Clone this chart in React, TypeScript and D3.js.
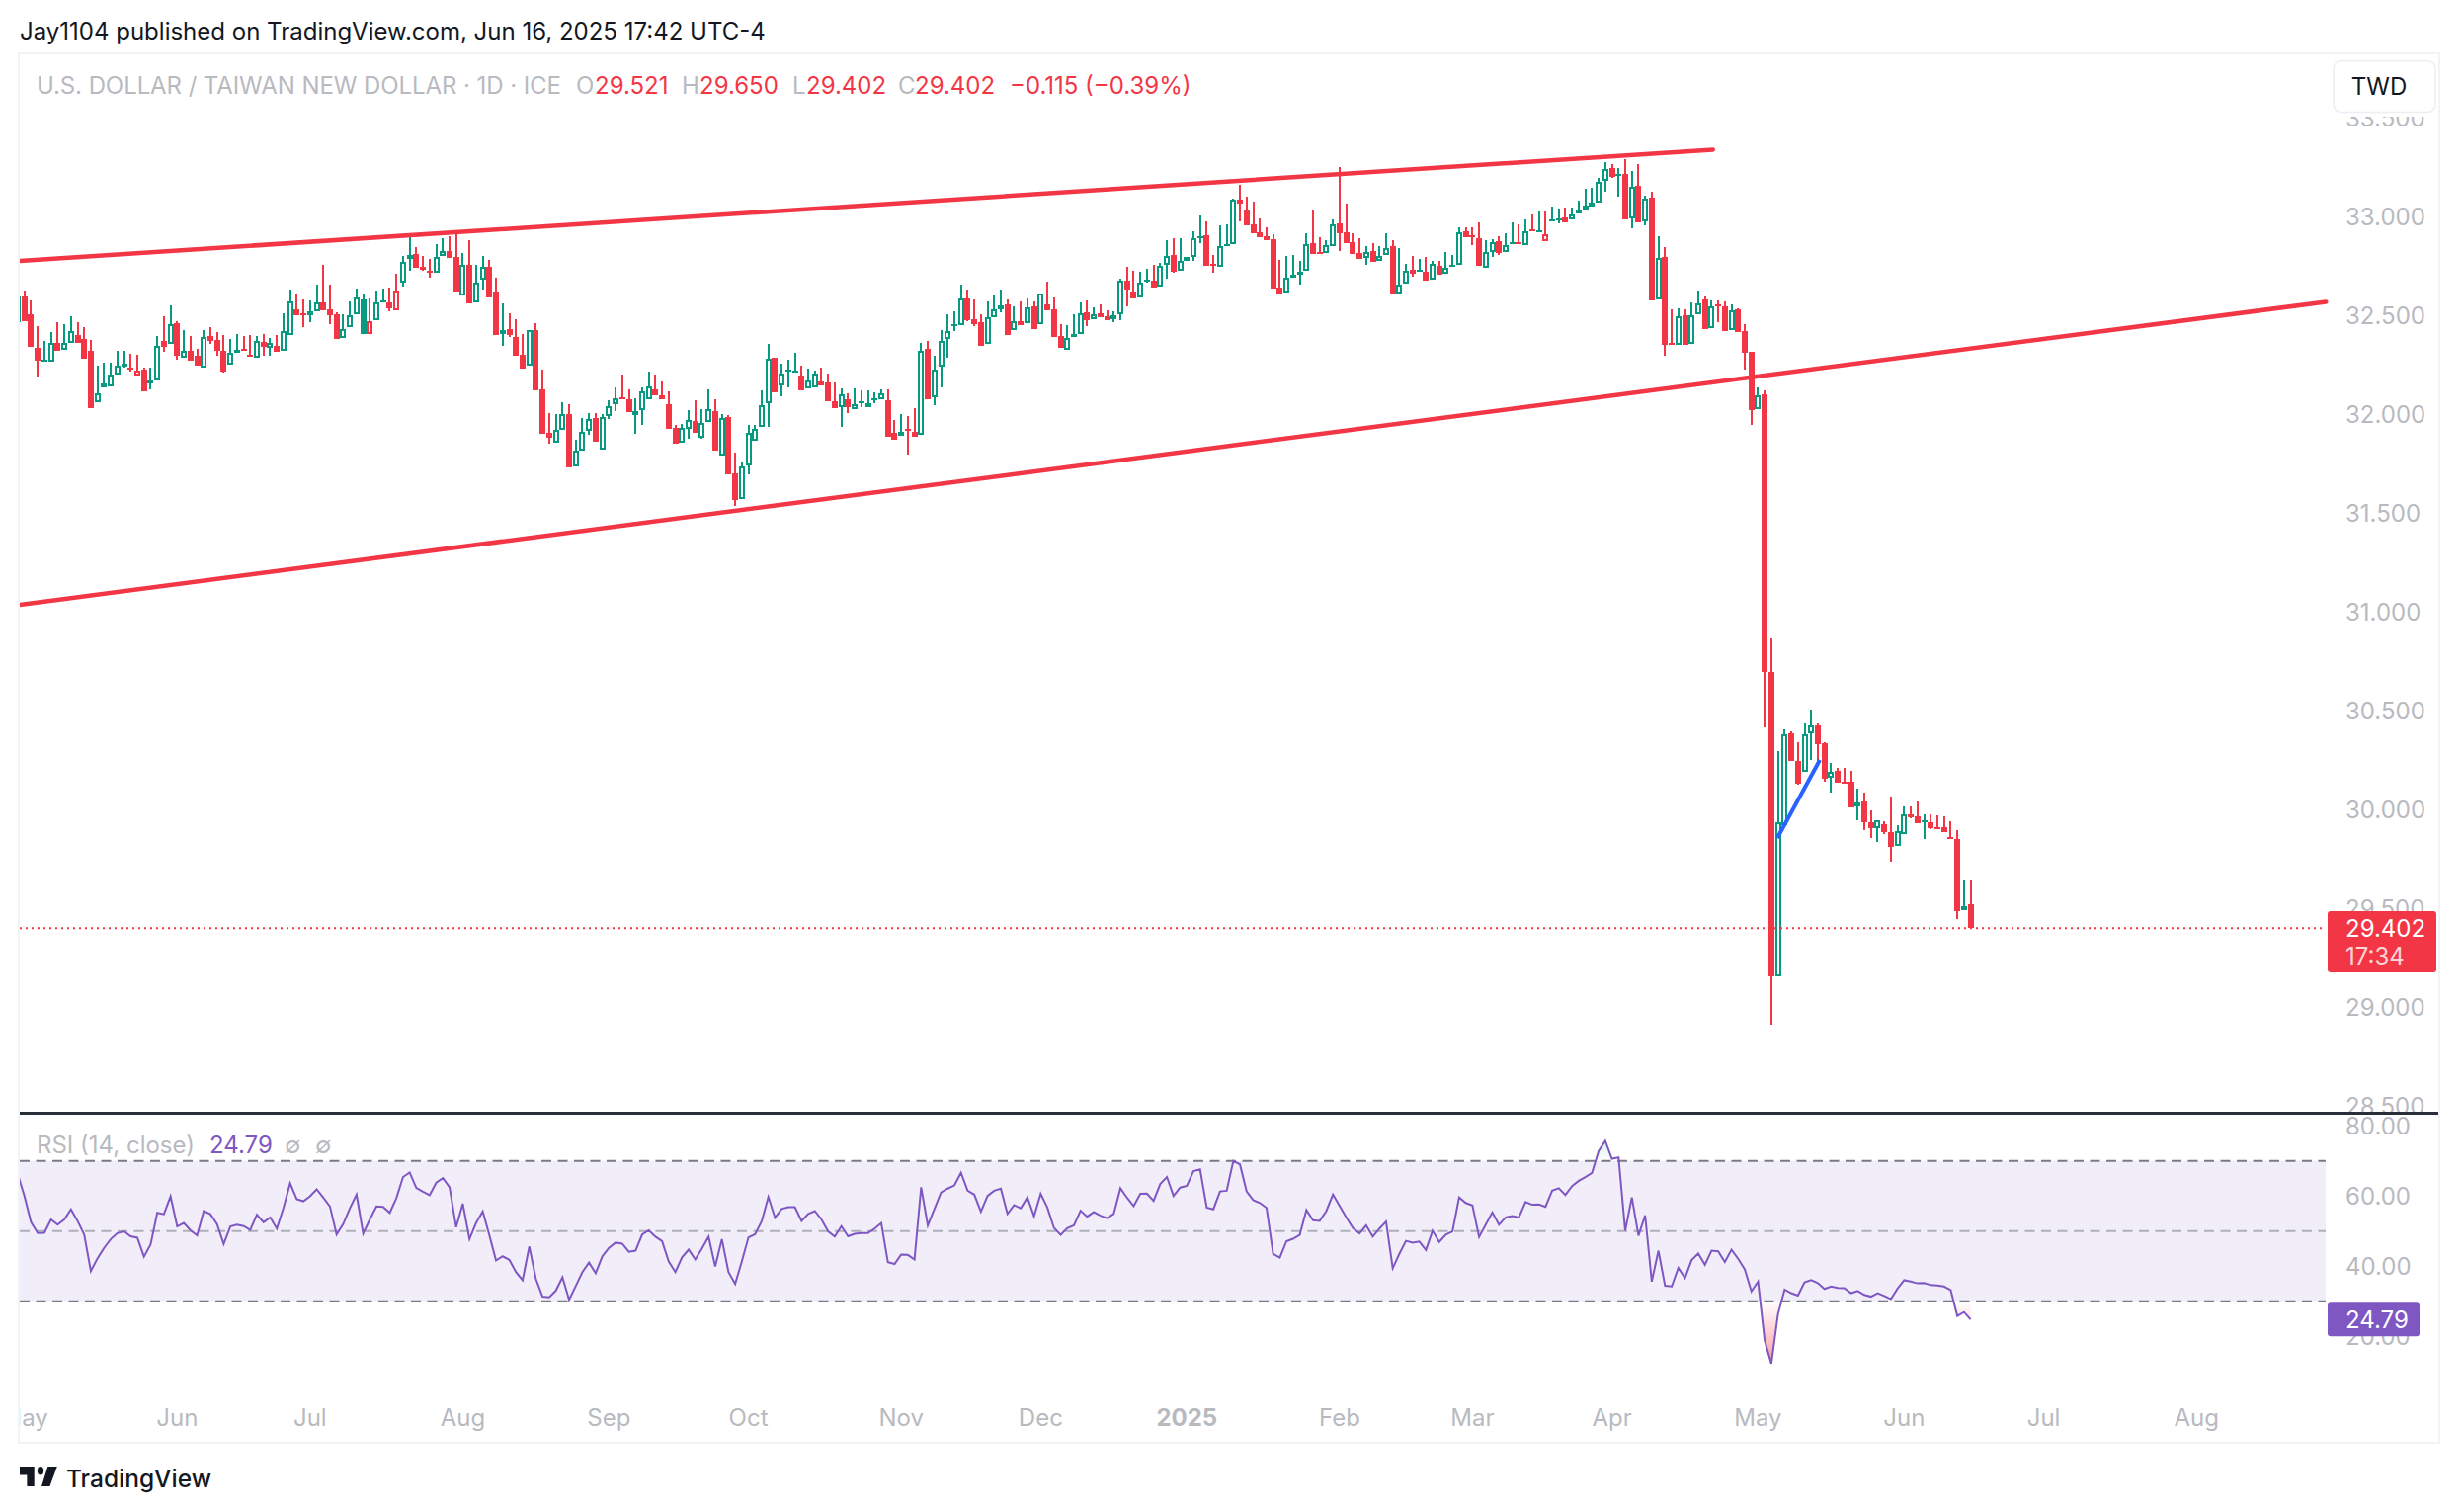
import * as d3 from 'd3';
import React, { useEffect, useRef } from 'react';

const opens = [
  32.47, 32.6, 32.508, 32.338, 32.276, 32.268, 32.363, 32.326, 32.363, 32.403,
  32.383, 32.323, 32.061, 32.138, 32.143, 32.203, 32.245, 32.236, 32.196, 32.228,
  32.156, 32.173, 32.373, 32.356, 32.463, 32.286, 32.323, 32.298, 32.238, 32.398,
  32.378, 32.323, 32.253, 32.315, 32.331, 32.301, 32.288, 32.368, 32.338, 32.348,
  32.323, 32.403, 32.533, 32.511, 32.503, 32.523, 32.568, 32.533, 32.508, 32.388,
  32.443, 32.508, 32.583, 32.408, 32.478, 32.578, 32.568, 32.528, 32.668, 32.788,
  32.813, 32.748, 32.728, 32.718, 32.803, 32.828, 32.798, 32.603, 32.758, 32.568,
  32.683, 32.748, 32.623, 32.408, 32.431, 32.393, 32.303, 32.248, 32.428, 32.128,
  31.908, 31.858, 31.923, 32.003, 31.738, 31.818, 31.918, 31.983, 31.823, 31.993,
  32.053, 32.086, 32.078, 31.998, 32.023, 32.078, 32.128, 32.098, 32.053, 31.933,
  31.858, 31.928, 31.968, 31.883, 31.963, 32.018, 31.793, 31.988, 31.703, 31.573,
  31.743, 31.868, 31.938, 32.058, 32.288, 32.148, 32.22, 32.222, 32.198, 32.133,
  32.138, 32.168, 32.163, 32.068, 32.038, 32.078, 32.028, 32.06, 32.038, 32.073,
  32.078, 32.073, 31.908, 31.893, 31.926, 31.913, 31.898, 32.333, 32.088, 32.243,
  32.383, 32.451, 32.453, 32.588, 32.483, 32.468, 32.358, 32.493, 32.533, 32.558,
  32.428, 32.473, 32.463, 32.548, 32.458, 32.558, 32.533, 32.398, 32.328, 32.393,
  32.408, 32.518, 32.483, 32.513, 32.498, 32.483, 32.508, 32.678, 32.623, 32.593,
  32.673, 32.678, 32.648, 32.758, 32.808, 32.728, 32.78, 32.798, 32.896, 32.908,
  32.761, 32.748, 32.861, 32.863, 33.088, 33.033, 32.963, 32.923, 32.903, 32.888,
  32.643, 32.618, 32.693, 32.708, 32.728, 32.868, 32.821, 32.818, 32.853, 32.968,
  32.923, 32.873, 32.818, 32.793, 32.828, 32.778, 32.808, 32.853, 32.613, 32.663,
  32.733, 32.726, 32.723, 32.683, 32.753, 32.713, 32.746, 32.758, 32.928, 32.906,
  32.893, 32.743, 32.823, 32.878, 32.823, 32.865, 32.871, 32.858, 32.936, 32.925,
  32.878, 32.976, 32.988, 32.998, 32.988, 33.018, 33.04, 33.055, 33.073, 33.183,
  33.248, 33.208, 33.218, 32.993, 33.158, 32.978, 33.098, 32.583, 32.798, 32.361,
  32.353, 32.503, 32.358, 32.508, 32.583, 32.438, 32.556, 32.548, 32.428, 32.533,
  32.423, 32.318, 32.028, 32.103, 30.7, 29.159, 29.925, 30.388, 30.246, 30.193,
  30.388, 30.428, 30.336, 30.162, 30.197, 30.144, 30.141, 30.016, 30.043, 29.94,
  29.909, 29.929, 29.89, 29.817, 29.877, 29.98, 29.966, 29.94, 29.94, 29.915,
  29.911, 29.862, 29.855, 29.491, 29.521,
];

const highs = [
  32.6, 32.63, 32.578, 32.448, 32.373, 32.418, 32.468, 32.458, 32.498, 32.468,
  32.443, 32.378, 32.248, 32.263, 32.263, 32.323, 32.323, 32.308, 32.303, 32.238,
  32.238, 32.398, 32.498, 32.553, 32.473, 32.428, 32.398, 32.333, 32.428, 32.443,
  32.418, 32.403, 32.383, 32.408, 32.398, 32.403, 32.398, 32.408, 32.388, 32.403,
  32.513, 32.633, 32.608, 32.583, 32.578, 32.658, 32.758, 32.658, 32.518, 32.508,
  32.573, 32.638, 32.613, 32.588, 32.628, 32.638, 32.643, 32.713, 32.803, 32.908,
  32.848, 32.803, 32.788, 32.863, 32.893, 32.903, 32.928, 32.818, 32.883, 32.758,
  32.803, 32.783, 32.693, 32.563, 32.513, 32.483, 32.408, 32.428, 32.463, 32.228,
  32.008, 32.003, 32.063, 32.053, 31.873, 31.983, 32.008, 32.008, 32.003, 32.073,
  32.138, 32.203, 32.128, 32.083, 32.138, 32.218, 32.203, 32.168, 32.118, 31.948,
  31.953, 32.023, 32.073, 32.028, 32.128, 32.078, 32.003, 31.998, 31.808, 31.758,
  31.948, 31.948, 32.123, 32.358, 32.288, 32.258, 32.278, 32.313, 32.248, 32.233,
  32.223, 32.238, 32.208, 32.163, 32.133, 32.108, 32.133, 32.123, 32.123, 32.113,
  32.128, 32.128, 31.973, 32.003, 31.993, 32.033, 32.363, 32.373, 32.298, 32.428,
  32.508, 32.523, 32.658, 32.633, 32.583, 32.508, 32.573, 32.603, 32.633, 32.583,
  32.548, 32.573, 32.588, 32.573, 32.613, 32.673, 32.593, 32.458, 32.453, 32.508,
  32.568, 32.578, 32.543, 32.558, 32.528, 32.523, 32.688, 32.748, 32.728, 32.723,
  32.738, 32.758, 32.768, 32.883, 32.893, 32.893, 32.796, 32.928, 33.008, 32.978,
  32.808, 32.958, 32.963, 33.093, 33.163, 33.103, 33.078, 32.993, 32.948, 32.913,
  32.783, 32.803, 32.808, 32.778, 32.918, 33.033, 32.898, 32.883, 32.988, 33.253,
  33.068, 32.918, 32.893, 32.853, 32.868, 32.853, 32.918, 32.883, 32.843, 32.763,
  32.803, 32.788, 32.798, 32.778, 32.778, 32.823, 32.808, 32.948, 32.948, 32.948,
  32.973, 32.883, 32.888, 32.903, 32.918, 32.973, 32.963, 32.988, 33.013, 33.028,
  33.028, 33.053, 33.043, 33.048, 33.048, 33.083, 33.143, 33.148, 33.198, 33.278,
  33.268, 33.248, 33.293, 33.233, 33.268, 33.108, 33.128, 32.903, 32.848, 32.533,
  32.538, 32.533, 32.568, 32.628, 32.598, 32.578, 32.578, 32.573, 32.558, 32.538,
  32.458, 32.318, 32.138, 32.123, 30.866, 30.3, 30.407, 30.4, 30.345, 30.438,
  30.508, 30.436, 30.345, 30.24, 30.212, 30.212, 30.197, 30.106, 30.088, 29.998,
  29.95, 29.944, 30.068, 29.925, 30.02, 30.02, 30.043, 29.98, 29.978, 29.972,
  29.966, 29.944, 29.896, 29.648, 29.65,
];

const lows = [
  32.47, 32.475, 32.345, 32.193, 32.278, 32.268, 32.323, 32.326, 32.363, 32.363,
  32.283, 32.033, 32.061, 32.138, 32.143, 32.203, 32.238, 32.218, 32.196, 32.118,
  32.128, 32.173, 32.318, 32.356, 32.278, 32.286, 32.273, 32.248, 32.238, 32.358,
  32.298, 32.213, 32.253, 32.315, 32.325, 32.293, 32.288, 32.298, 32.298, 32.32,
  32.323, 32.403, 32.505, 32.443, 32.468, 32.523, 32.528, 32.458, 32.383, 32.388,
  32.443, 32.508, 32.408, 32.408, 32.478, 32.568, 32.523, 32.528, 32.648, 32.728,
  32.743, 32.728, 32.693, 32.718, 32.803, 32.793, 32.623, 32.603, 32.563, 32.568,
  32.633, 32.593, 32.403, 32.348, 32.393, 32.298, 32.233, 32.248, 32.123, 31.903,
  31.853, 31.858, 31.923, 31.733, 31.738, 31.818, 31.898, 31.863, 31.823, 31.978,
  32.018, 32.08, 32.013, 31.903, 31.948, 32.078, 32.098, 32.078, 31.928, 31.853,
  31.858, 31.878, 31.908, 31.878, 31.963, 31.818, 31.793, 31.698, 31.538, 31.573,
  31.698, 31.868, 31.938, 31.938, 32.113, 32.093, 32.138, 32.222, 32.123, 32.133,
  32.138, 32.148, 32.068, 32.033, 31.938, 32.008, 32.028, 32.038, 32.038, 32.058,
  32.078, 31.888, 31.873, 31.893, 31.798, 31.888, 31.898, 32.078, 32.048, 32.138,
  32.288, 32.423, 32.453, 32.473, 32.448, 32.348, 32.358, 32.493, 32.518, 32.403,
  32.428, 32.453, 32.463, 32.433, 32.458, 32.528, 32.393, 32.338, 32.328, 32.393,
  32.408, 32.448, 32.483, 32.493, 32.478, 32.468, 32.478, 32.548, 32.588, 32.593,
  32.668, 32.643, 32.648, 32.688, 32.718, 32.728, 32.78, 32.778, 32.868, 32.753,
  32.718, 32.748, 32.861, 32.863, 32.978, 32.958, 32.918, 32.898, 32.883, 32.638,
  32.613, 32.618, 32.693, 32.658, 32.728, 32.813, 32.815, 32.818, 32.853, 32.828,
  32.868, 32.813, 32.788, 32.758, 32.773, 32.778, 32.808, 32.608, 32.613, 32.663,
  32.698, 32.726, 32.678, 32.683, 32.708, 32.713, 32.746, 32.758, 32.898, 32.858,
  32.753, 32.743, 32.798, 32.808, 32.823, 32.865, 32.865, 32.858, 32.93, 32.925,
  32.878, 32.976, 32.968, 32.973, 32.988, 33.018, 33.04, 33.055, 33.073, 33.128,
  33.198, 33.103, 32.988, 32.943, 32.973, 32.958, 32.578, 32.583, 32.298, 32.355,
  32.353, 32.353, 32.358, 32.508, 32.433, 32.438, 32.468, 32.423, 32.428, 32.418,
  32.228, 31.948, 32.028, 30.42, 28.914, 29.159, 29.925, 30.246, 30.13, 30.193,
  30.253, 30.221, 30.144, 30.088, 30.137, 30.139, 30.014, 29.947, 29.896, 29.857,
  29.838, 29.876, 29.739, 29.817, 29.877, 29.96, 29.934, 29.853, 29.905, 29.91,
  29.89, 29.856, 29.446, 29.491, 29.402,
];

const closes = [
  32.6, 32.475, 32.345, 32.275, 32.28, 32.361, 32.323, 32.365, 32.425, 32.363,
  32.283, 32.033, 32.108, 32.158, 32.203, 32.248, 32.26, 32.23, 32.223, 32.118,
  32.173, 32.348, 32.343, 32.46, 32.298, 32.323, 32.273, 32.248, 32.393, 32.373,
  32.323, 32.218, 32.315, 32.327, 32.325, 32.293, 32.375, 32.343, 32.363, 32.32,
  32.423, 32.573, 32.505, 32.505, 32.523, 32.568, 32.528, 32.503, 32.383, 32.433,
  32.503, 32.593, 32.408, 32.473, 32.568, 32.568, 32.538, 32.628, 32.773, 32.808,
  32.743, 32.733, 32.721, 32.798, 32.828, 32.793, 32.623, 32.758, 32.563, 32.668,
  32.748, 32.593, 32.403, 32.428, 32.403, 32.298, 32.233, 32.428, 32.123, 31.903,
  31.883, 31.923, 32.003, 31.733, 31.818, 31.913, 31.978, 31.863, 31.988, 32.043,
  32.083, 32.08, 32.013, 32.018, 32.12, 32.143, 32.098, 32.078, 31.928, 31.853,
  31.933, 31.973, 31.908, 31.958, 32.028, 31.818, 31.983, 31.698, 31.568, 31.738,
  31.908, 31.928, 32.048, 32.283, 32.113, 32.208, 32.226, 32.225, 32.123, 32.173,
  32.208, 32.148, 32.068, 32.033, 32.103, 32.038, 32.053, 32.066, 32.058, 32.081,
  32.108, 31.888, 31.873, 31.913, 31.92, 31.888, 32.323, 32.078, 32.228, 32.373,
  32.423, 32.456, 32.588, 32.478, 32.458, 32.348, 32.493, 32.533, 32.553, 32.403,
  32.473, 32.453, 32.543, 32.433, 32.613, 32.528, 32.393, 32.338, 32.388, 32.408,
  32.513, 32.478, 32.508, 32.493, 32.478, 32.503, 32.678, 32.633, 32.588, 32.668,
  32.681, 32.643, 32.753, 32.803, 32.723, 32.778, 32.796, 32.893, 32.905, 32.753,
  32.755, 32.853, 32.865, 33.088, 33.068, 32.958, 32.918, 32.898, 32.883, 32.638,
  32.613, 32.693, 32.708, 32.723, 32.863, 32.813, 32.815, 32.858, 32.963, 32.918,
  32.868, 32.813, 32.788, 32.823, 32.773, 32.803, 32.843, 32.608, 32.658, 32.728,
  32.713, 32.731, 32.678, 32.765, 32.708, 32.743, 32.758, 32.923, 32.898, 32.901,
  32.753, 32.823, 32.873, 32.818, 32.858, 32.871, 32.865, 32.928, 32.93, 32.931,
  32.913, 32.986, 32.995, 32.973, 33.013, 33.038, 33.056, 33.071, 33.178, 33.243,
  33.203, 33.216, 32.988, 33.153, 32.973, 33.093, 32.578, 32.793, 32.353, 32.355,
  32.498, 32.353, 32.503, 32.563, 32.433, 32.548, 32.55, 32.423, 32.528, 32.418,
  32.313, 32.023, 32.098, 30.7, 29.159, 29.94, 30.384, 30.246, 30.135, 30.384,
  30.426, 30.334, 30.157, 30.193, 30.139, 30.141, 30.014, 30.04, 29.94, 29.909,
  29.948, 29.89, 29.815, 29.892, 29.978, 29.965, 29.934, 29.948, 29.909, 29.91,
  29.89, 29.856, 29.49, 29.513, 29.402,
];

// g = green candle, r = red candle, ten to a group
const candleColors = [
  'grrrggrggr', 'rrgggggrrr', 'ggrgrgrrgr', 'rrggrrgrgr', 'ggrrggrrrg',
  'gggrggrrgg'.replace('gggrggrrgg', 'gggrggrrgg'), 'rrrggrrgrg', 'grrgrrrgrr', 'rggrgggrgg', 'grrgggrrrr',
  'ggrggrgrrg', 'ggggrgggrg', 'grrrgrgggg', 'grrgrrgrgg', 'gggrrrgggr',
  'grgrgrrrgg', 'grgrrggrrg', 'grggrggggr', 'rgggrrrrrr', 'rggggrrggr',
  'rrrgrggrgg', 'rgrgrgggrr', 'rggrggrgrg', 'rggrgggggg', 'rgrgrgrgrr',
  'grggrgrrgr', 'rrgrrggrrg', 'grrgrrrgrr', 'grrggrrgrr', 'rrrgr',
].join('');

const rsiValues = [
  66.1, 60.0, 52.5, 49.4, 49.5, 53.3, 51.8, 53.3, 56.2, 52.9,
  49.0, 38.6, 42.2, 45.2, 47.7, 49.4, 49.9, 48.5, 48.1, 42.7,
  46.2, 55.2, 54.8, 59.9, 51.3, 52.3, 50.2, 48.8, 55.7, 54.8,
  52.0, 46.3, 51.3, 51.8, 51.4, 50.3, 54.7, 52.5, 53.9, 50.7,
  56.6, 63.6, 59.1, 58.5, 59.9, 61.9, 59.5, 57.0, 49.0, 52.0,
  56.5, 60.4, 49.3, 53.3, 57.0, 56.9, 55.2, 59.4, 65.4, 66.7,
  62.3, 61.2, 60.2, 63.8, 65.1, 62.5, 51.1, 57.8, 47.7, 52.3,
  55.6, 48.8, 41.6, 42.8, 41.8, 38.3, 36.0, 45.6, 36.4, 31.3,
  31.1, 33.0, 36.8, 30.4, 34.3, 38.3, 41.0, 38.0, 42.8, 45.2,
  46.7, 46.4, 44.1, 44.4, 49.0, 50.2, 48.4, 47.1, 41.3, 38.3,
  42.5, 44.7, 41.9, 45.0, 48.4, 39.9, 47.7, 38.3, 34.9, 41.3,
  48.2, 49.1, 52.8, 59.7, 53.8, 56.3, 56.8, 56.8, 52.9, 54.9,
  55.7, 53.3, 49.9, 48.4, 51.4, 48.5, 49.2, 49.4, 49.4, 50.7,
  52.3, 41.1, 40.6, 43.3, 43.2, 41.9, 62.5, 51.6, 56.3, 61.0,
  62.1, 63.0, 66.6, 61.5, 60.4, 55.5, 60.0, 61.5, 62.1, 54.9,
  57.4, 56.5, 59.6, 54.2, 60.6, 56.7, 50.9, 48.9, 50.8, 51.6,
  55.8, 54.1, 55.4, 54.4, 53.7, 54.9, 62.2, 59.5, 57.1, 60.6,
  60.7, 58.6, 63.4, 65.4, 60.0, 62.4, 62.9, 67.1, 67.6, 56.7,
  56.2, 61.3, 61.5, 70.0, 69.0, 61.3, 58.8, 58.0, 56.6, 43.5,
  42.4, 47.1, 47.8, 48.9, 56.0, 53.1, 52.9, 55.7, 60.4, 57.2,
  53.9, 50.9, 49.3, 51.6, 48.4, 50.7, 52.7, 39.4, 43.5, 47.2,
  46.7, 47.0, 44.6, 50.1, 46.9, 49.0, 49.9, 59.6, 58.0, 57.3,
  48.3, 51.8, 55.3, 51.8, 53.9, 54.3, 53.9, 58.3, 57.5, 57.6,
  56.9, 61.5, 62.2, 60.3, 62.8, 64.3, 65.4, 66.6, 72.8, 75.7,
  70.6, 71.0, 50.1, 59.6, 48.7, 54.5, 35.6, 44.4, 34.4, 34.2,
  39.5, 36.6, 41.7, 43.6, 40.4, 44.4, 44.2, 41.2, 44.7, 42.1,
  39.1, 32.8, 35.6, 18.8, 12.2, 26.3, 33.3, 32.3, 31.6, 35.4,
  36.0, 35.2, 33.5, 34.2, 33.8, 33.7, 32.3, 32.9, 31.8, 31.3,
  32.3, 31.5, 30.6, 33.6, 36.0, 35.6, 35.1, 35.2, 34.6, 34.5,
  34.2, 33.2, 25.8, 26.9, 24.79,
];

const priceTicks = [33.5, 33, 32.5, 32, 31.5, 31, 30.5, 30, 29.5, 29, 28.5];
const rsiTicks = [80, 60, 40, 20];
const monthLabels = ['May', 'Jun', 'Jul', 'Aug', 'Sep', 'Oct', 'Nov', 'Dec', '2025', 'Feb', 'Mar', 'Apr', 'May', 'Jun', 'Jul', 'Aug'];
const monthBars = [1, 24, 44, 67, 89, 110, 133, 154, 176, 199, 219, 240, 262, 284, 305, 328];

const upperTrend = [[0.3, 32.778], [255.2, 33.341]];
const lowerTrend = [[0.3, 31.038], [347.5, 32.571]];
const blueSegment = [[264.9, 29.858], [271.3, 30.253]];

const RED = '#f23645';
const GREEN = '#089981';
const PURPLE = '#7e57c2';
const GREY = '#b8bac0';
const FONT = 'Inter, "Noto Sans", sans-serif';

const WIDTH = 2494;
const HEIGHT = 1530;
const LEFT = 20;
const PANE_RIGHT = 2354;
const FRAME_RIGHT = 2468;
const SEPARATOR = 1126;

const App = () => {
  const svgRef = useRef<SVGSVGElement | null>(null);

  useEffect(() => {
    if (!svgRef.current) return;
    const svg = d3.select(svgRef.current);
    svg.selectAll('*').remove();

    const x = d3.scaleLinear().domain([0, 294]).range([18, 1994.6]);
    const y = d3.scaleLinear().domain([29, 33]).range([1019.6, 219.6]);
    const yRsi = d3.scaleLinear().domain([30, 70]).range([1316.7, 1174.7]);

    const defs = svg.append('defs');
    defs.append('clipPath').attr('id', 'pane').append('rect')
      .attr('x', LEFT).attr('y', 55).attr('width', FRAME_RIGHT - LEFT).attr('height', SEPARATOR - 55);
    defs.append('clipPath').attr('id', 'rsiPane').append('rect')
      .attr('x', LEFT).attr('y', SEPARATOR).attr('width', PANE_RIGHT - LEFT).attr('height', 270);
    defs.append('clipPath').attr('id', 'below30').append('rect')
      .attr('x', LEFT).attr('y', yRsi(30)).attr('width', PANE_RIGHT - LEFT).attr('height', 120);
    defs.append('clipPath').attr('id', 'above70').append('rect')
      .attr('x', LEFT).attr('y', yRsi(70) - 60).attr('width', PANE_RIGHT - LEFT).attr('height', 60);
    defs.append('clipPath').attr('id', 'timeAxis').append('rect')
      .attr('x', LEFT).attr('y', 1400).attr('width', FRAME_RIGHT - LEFT).attr('height', 58);

    const redGrad = defs.append('linearGradient').attr('id', 'oversold')
      .attr('gradientUnits', 'userSpaceOnUse').attr('x1', 0).attr('x2', 0).attr('y1', yRsi(30)).attr('y2', yRsi(12));
    redGrad.append('stop').attr('offset', 0).attr('stop-color', RED).attr('stop-opacity', 0);
    redGrad.append('stop').attr('offset', 1).attr('stop-color', RED).attr('stop-opacity', 0.5);
    const greenGrad = defs.append('linearGradient').attr('id', 'overbought')
      .attr('gradientUnits', 'userSpaceOnUse').attr('x1', 0).attr('x2', 0).attr('y1', yRsi(70)).attr('y2', yRsi(80));
    greenGrad.append('stop').attr('offset', 0).attr('stop-color', GREEN).attr('stop-opacity', 0);
    greenGrad.append('stop').attr('offset', 1).attr('stop-color', GREEN).attr('stop-opacity', 0.3);

    svg.append('rect').attr('width', WIDTH).attr('height', HEIGHT).attr('fill', '#ffffff');

    // frame
    svg.append('rect')
      .attr('x', LEFT - 1).attr('y', 54).attr('width', FRAME_RIGHT - LEFT + 2).attr('height', 1406)
      .attr('fill', 'none').attr('stroke', '#f2f3f5').attr('stroke-width', 2);

    // RSI band
    svg.append('rect')
      .attr('x', LEFT).attr('y', yRsi(70)).attr('width', PANE_RIGHT - LEFT).attr('height', yRsi(30) - yRsi(70))
      .attr('fill', PURPLE).attr('fill-opacity', 0.1);

    const text = (parent: any, str: string, px: number, py: number, color: string, size = 24, weight = 400) =>
      parent.append('text')
        .attr('x', px).attr('y', py).attr('dy', '0.36em')
        .attr('fill', color).attr('font-family', FONT).attr('font-size', size).attr('font-weight', weight)
        .text(str);

    // price labels
    const priceLabels = svg.append('g').attr('clip-path', 'url(#pane)');
    priceTicks.forEach((p) => text(priceLabels, p.toFixed(3), 2374, y(p), GREY));
    rsiTicks.forEach((r) => text(svg, r.toFixed(2), 2374, yRsi(r), GREY));

    // candles
    const candles = svg.append('g').attr('clip-path', 'url(#pane)').attr('shape-rendering', 'crispEdges');
    opens.forEach((o, i) => {
      const c = closes[i];
      const color = candleColors[i] === 'g' ? GREEN : RED;
      const cx = Math.round(x(i));
      const top = Math.round(y(Math.max(o, c)));
      const bottom = Math.max(Math.round(y(Math.min(o, c))), top + 2);
      const hi = Math.round(y(highs[i]));
      const lo = Math.round(y(lows[i]));
      if (hi < top) {
        candles.append('rect').attr('x', cx - 1).attr('y', hi).attr('width', 2).attr('height', top - hi).attr('fill', color);
      }
      if (lo > bottom) {
        candles.append('rect').attr('x', cx - 1).attr('y', bottom).attr('width', 2).attr('height', lo - bottom).attr('fill', color);
      }
      if (c >= o && bottom - top > 4) {
        candles.append('rect')
          .attr('x', cx - 2).attr('y', top + 1).attr('width', 4).attr('height', bottom - top - 2)
          .attr('fill', '#ffffff').attr('stroke', color).attr('stroke-width', 2);
      } else {
        candles.append('rect').attr('x', cx - 3).attr('y', top).attr('width', 6).attr('height', bottom - top).attr('fill', color);
      }
    });

    // drawn lines
    const chartLine = d3.line<number[]>().x((d) => x(d[0])).y((d) => y(d[1]));
    const drawn = svg.append('g').attr('clip-path', 'url(#pane)');
    [upperTrend, lowerTrend].forEach((seg) => {
      drawn.append('path').attr('d', chartLine(seg)).attr('fill', 'none').attr('stroke', RED).attr('stroke-width', 4.5).attr('stroke-linecap', 'round');
    });
    drawn.append('path').attr('d', chartLine(blueSegment)).attr('fill', 'none').attr('stroke', '#2962ff').attr('stroke-width', 4);

    // last price line
    svg.append('line')
      .attr('x1', LEFT).attr('x2', PANE_RIGHT).attr('y1', y(closes[294])).attr('y2', y(closes[294]))
      .attr('stroke', RED).attr('stroke-width', 2).attr('stroke-dasharray', '2 4');

    // RSI levels
    [[70, 1], [50, 0.55], [30, 1]].forEach(([level, op]) => {
      svg.append('line')
        .attr('x1', LEFT).attr('x2', PANE_RIGHT).attr('y1', yRsi(level)).attr('y2', yRsi(level))
        .attr('stroke', '#787b86').attr('stroke-opacity', op).attr('stroke-width', 2).attr('stroke-dasharray', '10 6.5');
    });

    // RSI fills outside the band
    const rsiArea = (base: number) => d3.area<number>().x((_, i) => x(i)).y0(yRsi(base)).y1((d) => yRsi(d));
    svg.append('g').attr('clip-path', 'url(#below30)')
      .append('path').attr('d', rsiArea(30)(rsiValues)).attr('fill', 'url(#oversold)');
    svg.append('g').attr('clip-path', 'url(#above70)')
      .append('path').attr('d', rsiArea(70)(rsiValues)).attr('fill', 'url(#overbought)');

    // RSI line
    const rsiLine = d3.line<number>().x((_, i) => x(i)).y((d) => yRsi(d));
    svg.append('g').attr('clip-path', 'url(#rsiPane)')
      .append('path')
      .attr('d', rsiLine(rsiValues)).attr('fill', 'none').attr('stroke', PURPLE).attr('stroke-width', 2);

    // separator
    svg.append('rect').attr('x', LEFT).attr('y', SEPARATOR - 1).attr('width', FRAME_RIGHT - LEFT).attr('height', 3).attr('fill', '#2a2e39');

    // time axis
    const timeAxis = svg.append('g').attr('clip-path', 'url(#timeAxis)');
    monthLabels.forEach((m, i) => {
      text(timeAxis, m, x(monthBars[i]), 1434, GREY, 24, m === '2025' ? 700 : 400).attr('text-anchor', 'middle');
    });

    // price and RSI tags
    svg.append('rect').attr('x', 2356).attr('y', 922).attr('width', 110).attr('height', 62).attr('rx', 3).attr('fill', RED);
    text(svg, closes[294].toFixed(3), 2374, 939, '#ffffff');
    text(svg, '17:34', 2374, 967, '#ffffff').attr('fill-opacity', 0.8);
    svg.append('rect').attr('x', 2356).attr('y', yRsi(rsiValues[294]) - 17).attr('width', 93).attr('height', 34).attr('rx', 3).attr('fill', PURPLE);
    text(svg, rsiValues[294].toFixed(2), 2374, yRsi(rsiValues[294]), '#ffffff');

    // currency box, its white surround hides the top of the 33.500 label
    svg.append('rect').attr('x', 2358).attr('y', 56).attr('width', 108).attr('height', 62).attr('fill', '#ffffff');
    svg.append('rect').attr('x', 2362).attr('y', 61.5).attr('width', 103).attr('height', 52).attr('rx', 8)
      .attr('fill', '#ffffff').attr('stroke', '#eceef2').attr('stroke-width', 1.5);
    text(svg, 'TWD', 2408, 87, '#131722').attr('text-anchor', 'middle');

    // header and legends
    text(svg, 'Jay1104 published on TradingView.com, Jun 16, 2025 17:42 UTC-4', 20, 31, '#131722');
    text(svg, 'U.S. DOLLAR / TAIWAN NEW DOLLAR · 1D · ICE', 37, 86, GREY).attr('letter-spacing', -0.08);
    const legendParts: [string, number, string][] = [
      ['O', 583, GREY], ['29.521', 602, RED], ['H', 690, GREY], ['29.650', 708, RED],
      ['L', 802, GREY], ['29.402', 816, RED], ['C', 909, GREY], ['29.402', 926, RED],
      ['−0.115 (−0.39%)', 1022, RED],
    ];
    legendParts.forEach(([s, px, col]) => text(svg, s, px, 86, col));

    text(svg, 'RSI (14, close)', 37, 1158, GREY);
    text(svg, '24.79', 212, 1158, PURPLE);
    text(svg, '∅', 288, 1158, GREY);
    text(svg, '∅', 319, 1158, GREY);

    // logo
    const logo = svg.append('g').attr('transform', 'translate(20,1484) scale(1.05,1.43)').attr('fill', '#131722');
    logo.append('path').attr('d', 'M14 0H0v6h7v8h7V0Z');
    logo.append('circle').attr('cx', 20).attr('cy', 3).attr('r', 3);
    logo.append('path').attr('d', 'M29 0h7l-7 14h-8L27 0Z');
    text(svg, 'TradingView', 67, 1496, '#131722', 24.5, 500);
  }, []);

  return (
    <svg
      ref={svgRef}
      width={WIDTH}
      height={HEIGHT}
      style={{ position: 'absolute', left: 0, top: 0, display: 'block' }}
    />
  );
};

export default App;
